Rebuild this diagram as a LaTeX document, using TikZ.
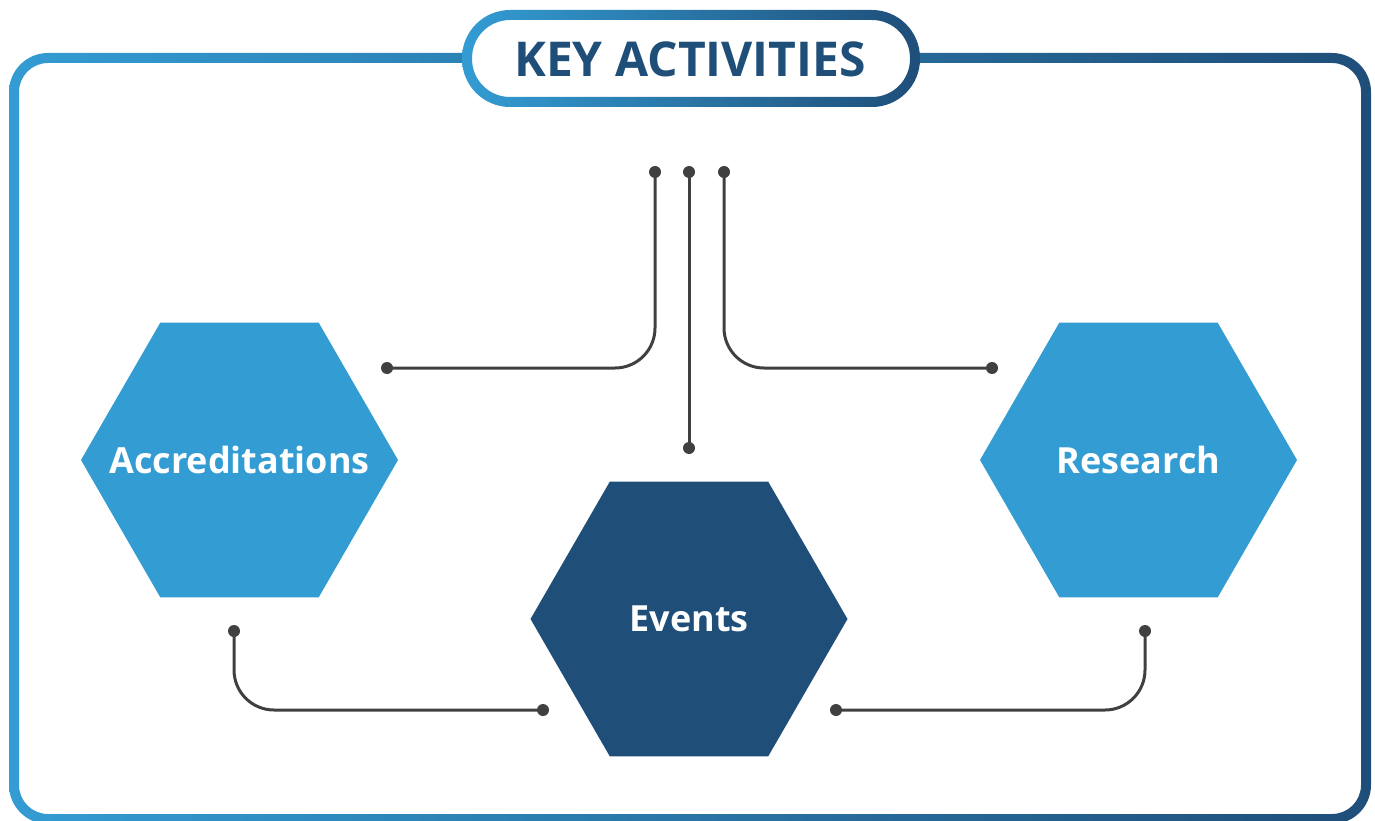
\documentclass[tikz,border=0pt]{standalone}
\usepackage{fontspec}
\setmainfont{Open Sans}
\usetikzlibrary{shapes.geometric}
\definecolor{lightblue}{HTML}{339CD3}
\definecolor{darkblue}{HTML}{1F4E79}
\definecolor{linegray}{HTML}{404040}
\begin{document}
\begin{tikzpicture}[x=1pt,y=-1pt,
  hexa/.style={regular polygon, regular polygon sides=6, minimum size=317pt,
    inner sep=0pt, outer sep=0pt},
  hexlabel/.style={text=white, inner sep=0pt, font=\bfseries\fontsize{36}{40}\selectfont},
  conn/.style={draw=linegray, line width=3pt, rounded corners=40pt},
  dot/.style={circle, fill=linegray, inner sep=0pt, minimum size=12pt},
  ringshade/.style={even odd rule, left color=lightblue, right color=darkblue},
]
\useasboundingbox (0,0) rectangle (1375,821);
% outer frame
\shade[ringshade] [rounded corners=39pt] (9,53) rectangle (1371,824)
  [rounded corners=29pt] (19,63) rectangle (1361,814);
% title pill
\fill[white, rounded corners=38pt] (472,20) rectangle (910,97);
\shade[ringshade] [rounded corners=48pt] (462,10) rectangle (920,107)
  [rounded corners=38pt] (472,20) rectangle (910,97);
\node[text=darkblue, font=\bfseries\fontsize{48}{50}\selectfont] (title) at (690,59) {KEY ACTIVITIES};
% hexagons
\node[hexa, fill=lightblue] (acc) at (239.5,460) {};
\node[hexa, fill=lightblue] (res) at (1138.5,460) {};
\node[hexa, fill=darkblue] (evt) at (689,619) {};
\node[hexlabel] (accT) at (acc.center) {Accreditations};
\node[hexlabel] (resT) at (res.center) {Research};
\node[hexlabel] (evtT) at (evt.center) {Events};
% dots
\node[dot] (t1) at (655,172) {};
\node[dot] (t2) at (689,172) {};
\node[dot] (t3) at (724,172) {};
\node[dot] (a1) at (387,368) {};
\node[dot] (b2) at (689,448) {};
\node[dot] (a3) at (992,368) {};
\node[dot] (b4) at (234,631) {};
\node[dot] (e4) at (543,710) {};
\node[dot] (b5) at (1145,631) {};
\node[dot] (e5) at (836,710) {};
% connectors
\draw[conn] (t1.center) |- (a1.center);
\draw[conn] (t2.center) -- (b2.center);
\draw[conn] (t3.center) |- (a3.center);
\draw[conn] (b4.center) |- (e4.center);
\draw[conn] (b5.center) |- (e5.center);
\end{tikzpicture}
\end{document}
